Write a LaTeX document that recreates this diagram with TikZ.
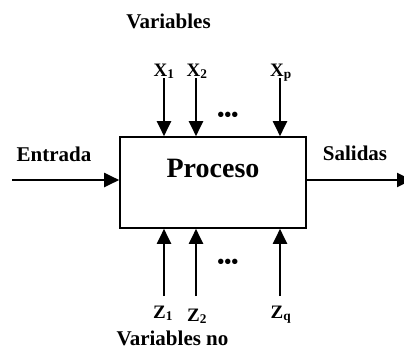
\documentclass[tikz,border=0pt]{standalone}
\usepackage{fontspec}
\setmainfont{Liberation Serif}
\usetikzlibrary{arrows.meta, positioning}
\tikzset{
  lbl/.style={font=\fontsize{21}{23}\selectfont\bfseries, inner sep=0pt, anchor=base},
  var/.style={font=\fontsize{19}{21}\selectfont\bfseries, inner sep=0pt, anchor=base},
  dots/.style={font=\fontsize{20}{22}\selectfont\bfseries, inner sep=0pt, anchor=base},
  procbox/.style={draw, line width=1.6pt, minimum width=186pt, minimum height=91pt,
    inner sep=0pt, font=\fontsize{28}{30}\selectfont\bfseries,
    text height=19pt, text depth=30pt},
  arr/.style={-{Triangle[length=15pt, width=14pt]}, line width=2pt},
}

\begin{document}
\begin{tikzpicture}[x=1pt, y=-1pt]
\useasboundingbox (0,0) rectangle (404,351);

% process box in the middle
\node[procbox] (proc) at (213,182.5) {Proceso};

% controlled variables on top
\node[lbl] (vtop) at (168.5,28) {Variables};
\node[var] (x1) at (164,76) {X\textsubscript{1}};
\node[var] (x2) at (197,76) {X\textsubscript{2}};
\node[var] (xp) at (281,76) {X\textsubscript{p}};
\node[dots] (dtop) at (228,121.5) {\textbullet\textbullet\textbullet};
\coordinate (x1s) at (164,78);
\coordinate (x2s) at (196,78);
\coordinate (xps) at (280,78);
\foreach \c in {x1s, x2s, xps}
  \draw[arr] (\c) -- (\c |- proc.north);

% non controlled variables below
\node[var] (z1) at (163,318) {Z\textsubscript{1}};
\node[var] (z2) at (197,321) {Z\textsubscript{2}};
\node[var] (zq) at (281,318) {Z\textsubscript{q}};
\node[dots] (dbot) at (228,268) {\textbullet\textbullet\textbullet};
\node[lbl] (vbot) at (172.5,345.5) {Variables no};
\coordinate (z1s) at (164,296);
\coordinate (z2s) at (196,296);
\coordinate (zqs) at (280,296);
\foreach \c in {z1s, z2s, zqs}
  \draw[arr] (\c) -- (\c |- proc.south);

% input and output
\node[lbl] (ent) at (54,161) {Entrada};
\node[lbl] (sal) at (355,160) {Salidas};
\coordinate (inS) at (12,180);
\coordinate (outE) at (412,180);
\draw[arr] (inS) -- (inS -| proc.west);
\draw[arr] (proc.east |- outE) -- (outE);

\end{tikzpicture}
\end{document}
